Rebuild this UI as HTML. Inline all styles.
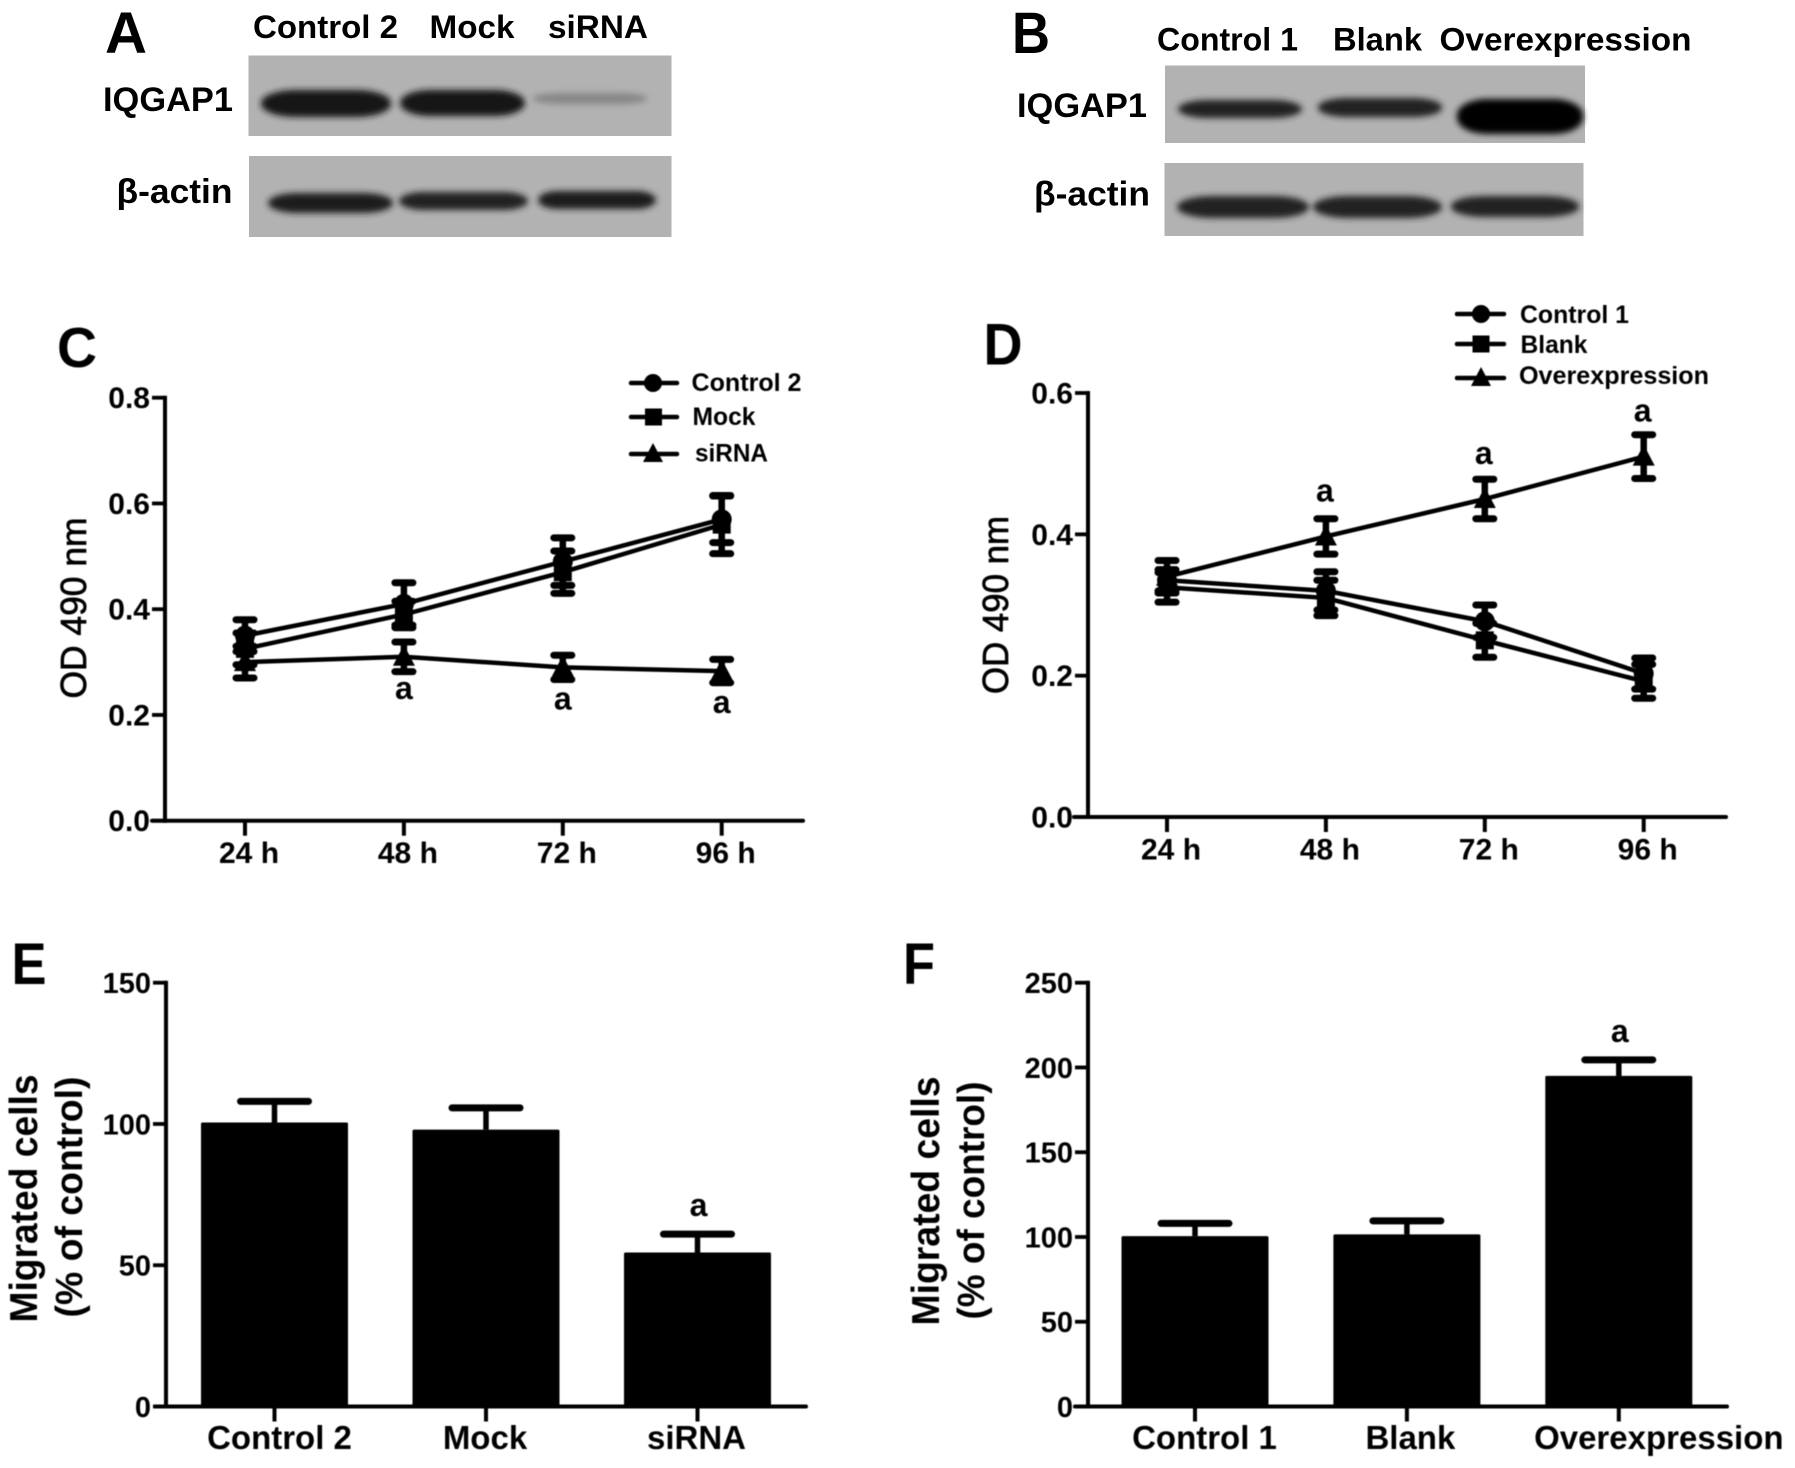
<!DOCTYPE html>
<html lang="en">
<head>
<meta charset="utf-8">
<title>IQGAP1 figure</title>
<style>
html,body{margin:0;padding:0;background:#fff;width:1795px;height:1468px;overflow:hidden}
svg{display:block}
text{font-family:"Liberation Sans",sans-serif;font-weight:700;fill:#000}
</style>
</head>
<body>
<svg id="figure" width="1795" height="1468" viewBox="0 0 1795 1468" xmlns="http://www.w3.org/2000/svg">
<defs>
<filter id="bandBlur" x="-20%" y="-80%" width="140%" height="260%"><feGaussianBlur stdDeviation="3.2"/></filter>
<filter id="softBlur" x="-5%" y="-5%" width="110%" height="110%"><feGaussianBlur stdDeviation="0.45"/></filter>
</defs>
<rect width="1795" height="1468" fill="#fff"/>

<g>
<text x="105" y="53" font-size="58" textLength="42" lengthAdjust="spacingAndGlyphs">A</text>
<text x="253" y="38" font-size="32" textLength="145" lengthAdjust="spacingAndGlyphs">Control 2</text>
<text x="429.500" y="38" font-size="32" textLength="85" lengthAdjust="spacingAndGlyphs">Mock</text>
<text x="548" y="38" font-size="32" textLength="100" lengthAdjust="spacingAndGlyphs">siRNA</text>
<text x="103" y="111" font-size="34" textLength="130" lengthAdjust="spacingAndGlyphs">IQGAP1</text>
<text x="116.500" y="203" font-size="34" textLength="116" lengthAdjust="spacingAndGlyphs">β-actin</text>
<rect x="248.500" y="55.500" width="423" height="80.500" fill="#b2b2b2"/>
<rect x="249" y="156" width="422.500" height="81" fill="#b2b2b2"/>
<g filter="url(#bandBlur)">
<rect x="261" y="90" width="130" height="27" rx="35" ry="13" fill="#141414"/>
<rect x="400" y="90" width="125" height="26" rx="30" ry="13" fill="#141414"/>
<rect x="533" y="93" width="114" height="11" rx="30" ry="5" fill="#868686"/>
<rect x="268" y="193" width="125" height="20" rx="30" ry="10" fill="#1a1a1a"/>
<rect x="399" y="192" width="129" height="18" rx="25" ry="9" fill="#222"/>
<rect x="538" y="191" width="118" height="18" rx="20" ry="9" fill="#1a1a1a"/>
</g>
</g>

<g>
<text x="1012" y="53" font-size="58" textLength="38" lengthAdjust="spacingAndGlyphs">B</text>
<text x="1157" y="50.5" font-size="32" textLength="141" lengthAdjust="spacingAndGlyphs">Control 1</text>
<text x="1333" y="50.5" font-size="32" textLength="89" lengthAdjust="spacingAndGlyphs">Blank</text>
<text x="1439.500" y="50.5" font-size="32" textLength="252" lengthAdjust="spacingAndGlyphs">Overexpression</text>
<text x="1017" y="117" font-size="34" textLength="130" lengthAdjust="spacingAndGlyphs">IQGAP1</text>
<text x="1034" y="205.5" font-size="34" textLength="116" lengthAdjust="spacingAndGlyphs">β-actin</text>
<rect x="1165" y="65.500" width="420" height="77.500" fill="#b2b2b2"/>
<rect x="1164.500" y="163" width="419" height="73" fill="#b2b2b2"/>
<g filter="url(#bandBlur)">
<rect x="1178" y="100" width="124" height="18" rx="30" ry="9" fill="#202020"/>
<rect x="1318" y="98" width="124" height="19" rx="30" ry="9" fill="#202020"/>
<rect x="1457" y="99" width="126" height="35" rx="30" ry="16" fill="#060606"/>
<rect x="1177" y="196" width="132" height="22" rx="35" ry="11" fill="#222"/>
<rect x="1313" y="196" width="129" height="22" rx="35" ry="11" fill="#222"/>
<rect x="1451" y="196" width="128" height="21" rx="35" ry="10" fill="#222"/>
</g>
</g>

<g id="charts" filter="url(#softBlur)">
<text x="57" y="367" font-size="57" textLength="40" lengthAdjust="spacingAndGlyphs">C</text>
<text x="983.500" y="364.500" font-size="58" textLength="39" lengthAdjust="spacingAndGlyphs">D</text>
<text x="11.500" y="984" font-size="58" textLength="35" lengthAdjust="spacingAndGlyphs">E</text>
<text x="903" y="984" font-size="58" textLength="32" lengthAdjust="spacingAndGlyphs">F</text>

<text transform="translate(86 608) rotate(-90)" text-anchor="middle" font-size="36" style="font-weight:400;stroke:#000;stroke-width:.7" textLength="181" lengthAdjust="spacingAndGlyphs">OD 490 nm</text>
<text transform="translate(1008 605) rotate(-90)" text-anchor="middle" font-size="36" style="font-weight:400;stroke:#000;stroke-width:.7" textLength="178" lengthAdjust="spacingAndGlyphs">OD 490 nm</text>
<text transform="translate(37 1198.5) rotate(-90)" text-anchor="middle" font-size="39" textLength="248" lengthAdjust="spacingAndGlyphs">Migrated cells</text>
<text transform="translate(82 1197) rotate(-90)" text-anchor="middle" font-size="38" textLength="241" lengthAdjust="spacingAndGlyphs">(% of control)</text>
<text transform="translate(939 1201) rotate(-90)" text-anchor="middle" font-size="39" textLength="249" lengthAdjust="spacingAndGlyphs">Migrated cells</text>
<text transform="translate(984 1200.5) rotate(-90)" text-anchor="middle" font-size="38" textLength="238" lengthAdjust="spacingAndGlyphs">(% of control)</text>

<g>
<line x1="631" x2="677" y1="383" y2="383" stroke="#000" stroke-width="4.5" stroke-linecap="round"/>
<circle cx="653" cy="383" r="9" fill="#000"/>
<text x="691.500" y="391" font-size="25" textLength="110" lengthAdjust="spacingAndGlyphs">Control 2</text>
<line x1="631" x2="677" y1="417" y2="417" stroke="#000" stroke-width="4.5" stroke-linecap="round"/>
<rect x="645" y="408.500" width="17" height="17" fill="#000"/>
<text x="692.500" y="425" font-size="25" textLength="63" lengthAdjust="spacingAndGlyphs">Mock</text>
<line x1="631" x2="677" y1="454" y2="454" stroke="#000" stroke-width="4.5" stroke-linecap="round"/>
<polygon points="653,443 663,462 643,462" fill="#000"/>
<text x="695" y="461.5" font-size="25" textLength="73" lengthAdjust="spacingAndGlyphs">siRNA</text>
</g>
<g>
<line x1="1457" x2="1504" y1="314" y2="314" stroke="#000" stroke-width="4.5" stroke-linecap="round"/>
<circle cx="1481" cy="314" r="9" fill="#000"/>
<text x="1520" y="323" font-size="25" textLength="109" lengthAdjust="spacingAndGlyphs">Control 1</text>
<line x1="1457" x2="1504" y1="344" y2="344" stroke="#000" stroke-width="4.5" stroke-linecap="round"/>
<rect x="1472.500" y="335.500" width="17" height="17" fill="#000"/>
<text x="1520.500" y="353" font-size="25" textLength="67" lengthAdjust="spacingAndGlyphs">Blank</text>
<line x1="1457" x2="1504" y1="378" y2="378" stroke="#000" stroke-width="4.5" stroke-linecap="round"/>
<polygon points="1481,367 1491,386 1471,386" fill="#000"/>
<text x="1519" y="384" font-size="25" textLength="190" lengthAdjust="spacingAndGlyphs">Overexpression</text>
</g>
</g>

<script>
/* Chart C: proliferation, knock-down */
const timeLabels = ['24 h', '48 h', '72 h', '96 h'];
const cTickValues = [0, 0.2, 0.4, 0.6, 0.8];
const cTickLabels = ['0.0', '0.2', '0.4', '0.6', '0.8'];
const cControl2 = [0.35, 0.41, 0.49, 0.57];
const cControl2Err = [0.03, 0.04, 0.045, 0.044];
const cMock = [0.325, 0.39, 0.47, 0.56];
const cMockErr = [0.03, 0.025, 0.04, 0.055];
const cSirna = [0.30, 0.31, 0.29, 0.283];
const cSirnaErr = [0.03, 0.028, 0.023, 0.022];
const cSignificant = [false, true, true, true];

/* Chart D: proliferation, over-expression */
const dTickValues = [0, 0.2, 0.4, 0.6];
const dTickLabels = ['0.0', '0.2', '0.4', '0.6'];
const dControl1 = [0.335, 0.32, 0.277, 0.203];
const dControl1Err = [0.015, 0.027, 0.023, 0.022];
const dBlank = [0.325, 0.31, 0.25, 0.192];
const dBlankErr = [0.021, 0.025, 0.024, 0.024];
const dOver = [0.34, 0.397, 0.45, 0.51];
const dOverErr = [0.023, 0.025, 0.028, 0.031];
const dSignificant = [false, true, true, true];

/* Chart E: migration, knock-down */
const eCategories = ['Control 2', 'Mock', 'siRNA'];
const eTickValues = [0, 50, 100, 150];
const eTickLabels = ['0', '50', '100', '150'];
const eValues = [100.5, 98, 54.5];
const eErrors = [7.5, 7.7, 6.5];
const eSignificant = [false, false, true];

/* Chart F: migration, over-expression */
const fCategories = ['Control 1', 'Blank', 'Overexpression'];
const fTickValues = [0, 50, 100, 150, 200, 250];
const fTickLabels = ['0', '50', '100', '150', '200', '250'];
const fValues = [100.5, 101.5, 195];
const fErrors = [7.5, 8, 9.5];
const fSignificant = [false, false, true];

const NS = 'http://www.w3.org/2000/svg';
const root = document.getElementById('charts');

function make(tag, attrs, parent, content) {
  const el = document.createElementNS(NS, tag);
  for (const k in attrs) el.setAttribute(k, attrs[k]);
  if (content !== undefined) el.textContent = content;
  (parent || root).appendChild(el);
  return el;
}
function seg(x1, y1, x2, y2, w, name, cap) {
  const el = make('line', {x1: x1, y1: y1, x2: x2, y2: y2, stroke: '#000', 'stroke-width': w, 'stroke-linecap': cap || 'butt'});
  
  
  return el;
}
function label(x, y, size, anchor, str, name) {
  const el = make('text', {x: x, y: y, 'font-size': size, 'text-anchor': anchor}, root, str);
  
  
  return el;
}

function axes(id, cfg) {
  seg(cfg.axisX, cfg.y(cfg.ticks[cfg.ticks.length - 1]) - 2, cfg.axisX, cfg.y(0) + 2, 4, 'chart-' + id + '-y-axis');
  seg(cfg.x0, cfg.y(0), cfg.x1, cfg.y(0), 4, 'chart-' + id + '-x-axis', 'round');
  cfg.ticks.forEach(function (v, i) {
    seg(cfg.axisX - 13, cfg.y(v), cfg.axisX, cfg.y(v), 3.8, 'chart-' + id + '-y-tick-' + cfg.tickLabels[i]);
    label(cfg.axisX - 15, cfg.y(v) + 10.5, cfg.tickSize, 'end', cfg.tickLabels[i], 'chart-' + id + '-y-tick-label-' + cfg.tickLabels[i]);
  });
}

function lineChart(id, cfg) {
  axes(id, cfg);
  timeLabels.forEach(function (t, i) {
    seg(cfg.x(i), cfg.y(0), cfg.x(i), cfg.y(0) + 15, 4, 'chart-' + id + '-x-tick-' + i);
    label(cfg.x(i) + 4, cfg.y(0) + 42.5, 30, 'middle', t, 'chart-' + id + '-x-tick-label-' + i);
  });
  cfg.series.forEach(function (s) {
    const pts = s.values.map(function (v, i) { return cfg.x(i) + ',' + cfg.y(v); }).join(' ');
    const line = make('polyline', {points: pts, fill: 'none', stroke: '#000', 'stroke-width': 4.5, 'stroke-linejoin': 'round'});
    
    
    s.values.forEach(function (v, i) {
      const cx = cfg.x(i);
      const hi = cfg.y(v + s.errs[i]);
      const lo = cfg.y(v - s.errs[i]);
      seg(cx, hi, cx, lo, 6.5, 'chart-' + id + '-error-stem-' + s.name + '-' + i);
      seg(cx - 9, hi, cx + 9, hi, 7, 'chart-' + id + '-error-cap-high-' + s.name + '-' + i, 'round');
      seg(cx - 9, lo, cx + 9, lo, 7, 'chart-' + id + '-error-cap-low-' + s.name + '-' + i, 'round');
      const cy = cfg.y(v);
      let mark;
      if (s.shape === 'circle') {
        mark = make('circle', {cx: cx, cy: cy, r: 10, fill: '#000'});
      } else if (s.shape === 'square') {
        mark = make('rect', {x: cx - 9, y: cy - 9, width: 18, height: 18, fill: '#000'});
      } else {
        mark = make('polygon', {points: cx + ',' + (cy - 12) + ' ' + (cx + 11) + ',' + (cy + 9) + ' ' + (cx - 11) + ',' + (cy + 9), fill: '#000'});
      }
      
      
    });
  });
  cfg.significant.forEach(function (flag, i) {
    if (!flag) return;
    const v = cfg.markSeries[i];
    label(cfg.x(i) + cfg.markDx, cfg.y(v) + cfg.markDy, 32, 'middle', 'a', 'chart-' + id + '-significance-' + i);
  });
}

function barChart(id, cfg) {
  axes(id, cfg);
  cfg.categories.forEach(function (name, i) {
    const cx = cfg.x(i);
    seg(cx, cfg.y(0), cx, cfg.y(0) + 15, 4, 'chart-' + id + '-x-tick-' + i);
    const top = cfg.y(cfg.values[i]);
    const bar = make('rect', {x: cx - 73.5, y: top, width: 147, height: cfg.y(0) - top, fill: '#000', rx: 1.5});
    
    
    const hi = cfg.y(cfg.values[i] + cfg.errors[i]);
    seg(cx, top, cx, hi, 5.5, 'chart-' + id + '-error-stem-' + i);
    seg(cx - 34, hi, cx + 34, hi, 7, 'chart-' + id + '-error-cap-' + i, 'round');
    label(cx + cfg.labelDx(name), 1449, 33, 'middle', name, 'chart-' + id + '-category-label-' + i);
    if (cfg.significant[i]) label(cx + 1, hi - 18, 32, 'middle', 'a', 'chart-' + id + '-significance-' + i);
  });
}

const xC = function (i) { return 245 + i * 158.9; };
const yC = function (v) { return 820.7 - v / 0.8 * 423; };
const xD = function (i) { return 1167 + i * 158.9; };
const yD = function (v) { return 817 - v / 0.6 * 424; };
const xE = function (i) { return 274.5 + i * 211.5; };
const yE = function (v) { return 1406.5 - v / 150 * 423.8; };
const xF = function (i) { return 1195 + i * 211.9; };
const yF = function (v) { return 1406.5 - v / 250 * 423.8; };

lineChart('c', {
  x: xC, y: yC, axisX: 165, x0: 152, x1: 803, tickSize: 30,
  ticks: cTickValues, tickLabels: cTickLabels,
  series: [
    {name: 'control-2', shape: 'circle', values: cControl2, errs: cControl2Err},
    {name: 'mock', shape: 'square', values: cMock, errs: cMockErr},
    {name: 'sirna', shape: 'triangle', values: cSirna, errs: cSirnaErr}
  ],
  significant: cSignificant, markSeries: cSirna, markDx: 0, markDy: 42
});

lineChart('d', {
  x: xD, y: yD, axisX: 1088, x0: 1074, x1: 1726, tickSize: 30,
  ticks: dTickValues, tickLabels: dTickLabels,
  series: [
    {name: 'control-1', shape: 'circle', values: dControl1, errs: dControl1Err},
    {name: 'blank', shape: 'square', values: dBlank, errs: dBlankErr},
    {name: 'overexpression', shape: 'triangle', values: dOver, errs: dOverErr}
  ],
  significant: dSignificant, markSeries: dOver, markDx: -1, markDy: -35
});

barChart('e', {
  x: xE, y: yE, axisX: 166, x0: 155, x1: 806, tickSize: 29,
  ticks: eTickValues, tickLabels: eTickLabels,
  categories: eCategories, values: eValues, errors: eErrors, significant: eSignificant,
  labelDx: function (name) { return name === 'Control 2' ? 5 : -1; }
});

barChart('f', {
  x: xF, y: yF, axisX: 1088, x0: 1075, x1: 1727, tickSize: 29,
  ticks: fTickValues, tickLabels: fTickLabels,
  categories: fCategories, values: fValues, errors: fErrors, significant: fSignificant,
  labelDx: function (name) { return name === 'Overexpression' ? 40 : (name === 'Blank' ? 3.5 : 9.5); }
});
</script>
</svg>
</body>
</html>
